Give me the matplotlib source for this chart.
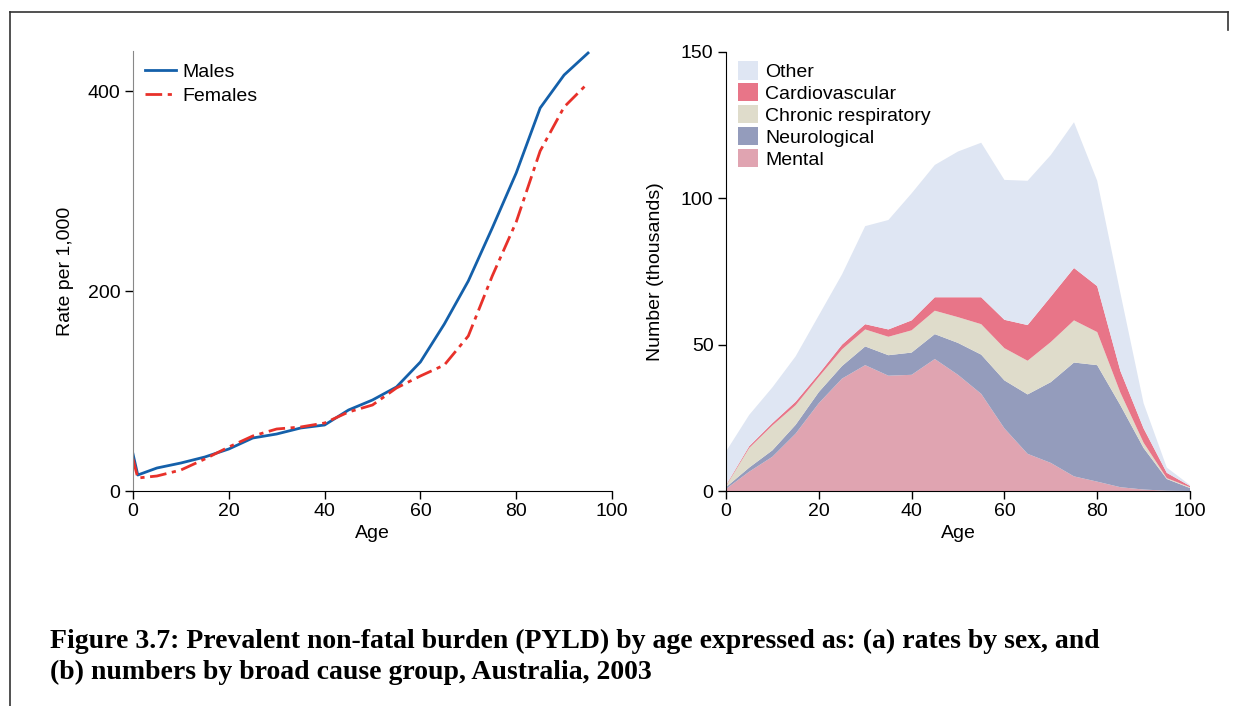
import matplotlib
matplotlib.use('Agg')
from matplotlib import pyplot as plt
from matplotlib.lines import Line2D
from matplotlib.patches import Patch

# --- data ---
ages_rate = [0, 1, 5, 10, 15, 20, 25, 30, 35, 40, 45, 50, 55, 60, 65, 70, 75, 80, 85, 90, 95]
males = [37, 16, 23, 28, 34, 42, 53, 57, 63, 66, 81, 91, 104, 129, 167, 210, 263, 318, 383, 416, 438]
females = [32, 13, 15, 21, 32, 44, 55, 62, 64, 68, 79, 86, 103, 115, 126, 155, 215, 269, 340, 384, 408]

ages = [0, 5, 10, 15, 20, 25, 30, 35, 40, 45, 50, 55, 60, 65, 70, 75, 80, 85, 90, 95, 100]
mental = [0.7, 6.6, 11.7, 19.6, 30.0, 38.4, 43.0, 39.4, 39.7, 45.1, 39.7, 33.2, 21.4, 12.7, 9.6, 5.0, 3.2, 1.3, 0.5, 0.1, 0.0]
neuro = [0.6, 1.4, 2.2, 3.0, 3.8, 4.3, 6.4, 7.0, 7.6, 8.5, 10.9, 13.4, 16.4, 20.3, 27.6, 38.9, 39.8, 28.0, 14.2, 4.0, 1.0]
resp = [0.4, 6.7, 8.5, 6.7, 5.2, 5.7, 5.8, 6.3, 7.6, 8.0, 8.8, 10.4, 11.0, 11.5, 13.7, 14.4, 11.3, 4.3, 1.8, 0.3, 0.3]
cardio = [0.3, 0.6, 0.8, 1.2, 1.0, 1.6, 1.8, 2.5, 3.4, 4.6, 6.8, 9.2, 9.7, 12.2, 15.5, 17.9, 15.7, 7.4, 4.9, 1.8, 0.4]
other = [11.5, 10.7, 12.2, 15.5, 20.0, 24.0, 33.5, 37.4, 43.4, 45.2, 49.8, 52.8, 47.8, 49.3, 48.4, 49.8, 36.0, 26.6, 8.6, 1.8, 0.3]

cause_names = ['Mental', 'Neurological', 'Chronic respiratory', 'Cardiovascular', 'Other']
cause_cols = ['#e0a4b1', '#949cbc', '#dfdccb', '#e87588', '#dfe6f3']

caption = ('Figure 3.7: Prevalent non-fatal burden (PYLD) by age expressed as: (a) rates by sex, and\n'
           '(b) numbers by broad cause group, Australia, 2003')

plt.rcParams['font.family'] = ['Liberation Sans', 'DejaVu Sans']
FS = 14

fig = plt.figure(figsize=(12.36, 7.06), dpi=100)

# frame lines
fig.add_artist(Line2D([10/1236, 1228/1236], [1 - 12/706, 1 - 12/706], color='#333333', lw=1.2))
fig.add_artist(Line2D([10/1236, 10/1236], [0, 1 - 12/706], color='#333333', lw=1.2))
fig.add_artist(Line2D([1228/1236, 1228/1236], [1 - 12/706, 1 - 30/706], color='#333333', lw=1.2))


def style(ax):
    ax.spines['top'].set_visible(False)
    ax.spines['right'].set_visible(False)
    ax.tick_params(direction='out', length=6, width=1, labelsize=FS, pad=3)
    ax.set_xlim(0, 100)
    ax.set_xticks([0, 20, 40, 60, 80, 100])
    ax.set_xlabel('Age', fontsize=FS, labelpad=3)


# (a) rates by sex
ax1 = fig.add_axes([133/1236, 215/706, 479/1236, 440/706])
ax1.plot(ages_rate, males, color='#1460aa', lw=2, label='Males')
ax1.plot(ages_rate, females, color='#e8312a', lw=2, ls=(0, (6, 2, 1.5, 2)), label='Females')
ax1.set_ylim(0, 440)
ax1.set_yticks([0, 200, 400])
ax1.spines['left'].set_color('#888888')
style(ax1)
ax1.set_ylabel('Rate per 1,000', fontsize=FS, labelpad=10)
ax1.legend(loc='upper left', frameon=False, handlelength=1.6, handletextpad=0.3,
           borderaxespad=0.1, labelspacing=0.35, fontsize=FS, bbox_to_anchor=(0.005, 0.995))

# (b) numbers by cause group
ax2 = fig.add_axes([726/1236, 215/706, 464/1236, 439/706])
ax2.stackplot(ages, mental, neuro, resp, cardio, other, colors=cause_cols, labels=cause_names, lw=0)
ax2.set_ylim(0, 150)
ax2.set_yticks([0, 50, 100, 150])
style(ax2)
ax2.set_ylabel('Number (thousands)', fontsize=FS, labelpad=12)
handles = [Patch(facecolor=c, edgecolor='none') for c in cause_cols][::-1]
ax2.legend(handles, cause_names[::-1], loc='upper left', frameon=False, handlelength=1.05,
           handleheight=1.05, handletextpad=0.35, borderaxespad=0.2, labelspacing=0.12,
           fontsize=FS, bbox_to_anchor=(0.0, 1.005))

fig.text(50/1236, 1 - 679/706, caption, family=['Liberation Serif', 'DejaVu Serif'],
         fontweight='bold', fontsize=20, linespacing=1.32, va='baseline')

fig.savefig('out.png', dpi=100)
